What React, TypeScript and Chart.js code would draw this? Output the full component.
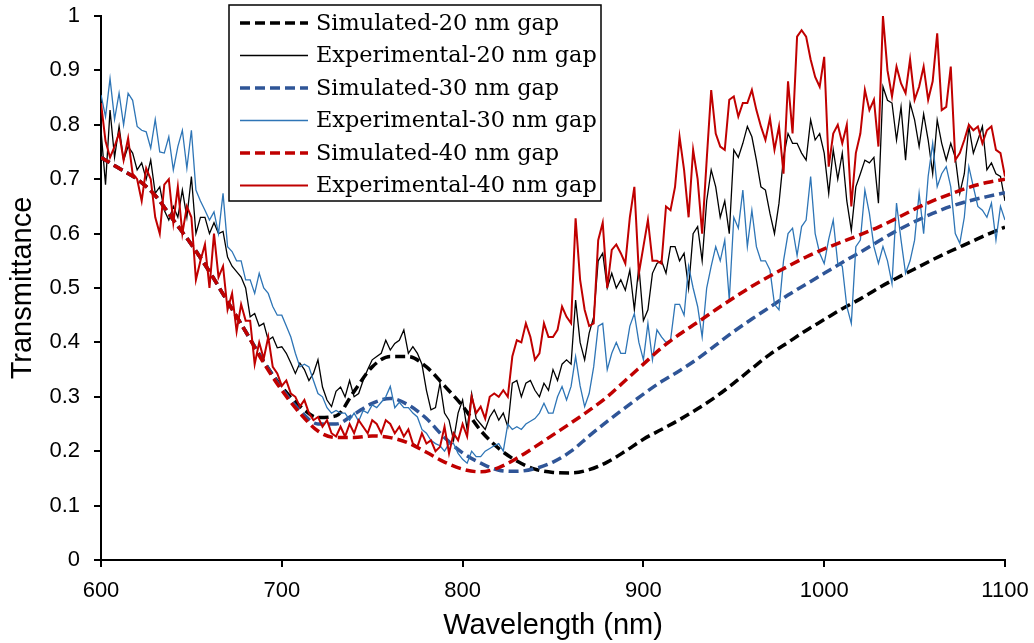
import React, { useEffect, useRef } from 'react';
import { Chart, registerables } from 'chart.js';

Chart.register(...registerables);

// ---------- data ----------
const SIM_WL = [
  600, 610, 620, 630, 640, 650, 660, 670, 680, 690,
  700, 710, 720, 730, 740, 750, 760, 770, 780, 790,
  800, 810, 820, 830, 840, 850, 860, 870, 880, 890,
  900, 910, 920, 930, 940, 950, 960, 970, 980, 990,
  1000, 1010, 1020, 1030, 1040, 1050, 1060, 1070, 1080, 1090,
  1100,
];

const SIM_20 = [
  0.74, 0.72, 0.70, 0.67, 0.625, 0.58, 0.53, 0.475, 0.42, 0.365,
  0.318, 0.283, 0.262, 0.265, 0.31, 0.355, 0.374, 0.374, 0.355, 0.32,
  0.283, 0.238, 0.205, 0.182, 0.167, 0.161, 0.16, 0.166, 0.18, 0.20,
  0.222, 0.24, 0.258, 0.278, 0.30, 0.325, 0.352, 0.378, 0.40, 0.422,
  0.442, 0.462, 0.48, 0.50, 0.518, 0.535, 0.552, 0.568, 0.583, 0.598,
  0.612,
];

const SIM_30 = [
  0.74, 0.72, 0.70, 0.67, 0.625, 0.58, 0.53, 0.475, 0.42, 0.365,
  0.315, 0.275, 0.25, 0.25, 0.268, 0.288, 0.297, 0.285, 0.26, 0.225,
  0.197, 0.178, 0.165, 0.163, 0.168, 0.18, 0.20, 0.228, 0.255, 0.28,
  0.305, 0.328, 0.348, 0.37, 0.395, 0.42, 0.443, 0.465, 0.487, 0.507,
  0.527, 0.547, 0.566, 0.586, 0.605, 0.622, 0.637, 0.65, 0.66, 0.668,
  0.675,
];

const SIM_40 = [
  0.74, 0.72, 0.70, 0.67, 0.625, 0.58, 0.53, 0.475, 0.42, 0.362,
  0.312, 0.27, 0.237, 0.225, 0.225, 0.228, 0.225, 0.215, 0.198, 0.18,
  0.167, 0.162, 0.17, 0.187, 0.208, 0.23, 0.252, 0.275, 0.30, 0.33,
  0.36, 0.39, 0.415, 0.437, 0.46, 0.482, 0.503, 0.522, 0.54, 0.557,
  0.572, 0.585, 0.598, 0.612, 0.628, 0.645, 0.66, 0.673, 0.685, 0.694,
  0.70,
];

const EXP_WL = [
  600, 602.5, 605, 607.5, 610, 612.5, 615, 617.5, 620, 622.5,
  625, 627.5, 630, 632.5, 635, 637.5, 640, 642.5, 645, 647.5,
  650, 652.5, 655, 657.5, 660, 662.5, 665, 667.5, 670, 672.5,
  675, 677.5, 680, 682.5, 685, 687.5, 690, 692.5, 695, 697.5,
  700, 702.5, 705, 707.5, 710, 712.5, 715, 717.5, 720, 722.5,
  725, 727.5, 730, 732.5, 735, 737.5, 740, 742.5, 745, 747.5,
  750, 752.5, 755, 757.5, 760, 762.5, 765, 767.5, 770, 772.5,
  775, 777.5, 780, 782.5, 785, 787.5, 790, 792.5, 795, 797.5,
  800, 802.5, 805, 807.5, 810, 812.5, 815, 817.5, 820, 822.5,
  825, 827.5, 830, 832.5, 835, 837.5, 840, 842.5, 845, 847.5,
  850, 852.5, 855, 857.5, 860, 862.5, 865, 867.5, 870, 872.5,
  875, 877.5, 880, 882.5, 885, 887.5, 890, 892.5, 895, 897.5,
  900, 902.5, 905, 907.5, 910, 912.5, 915, 917.5, 920, 922.5,
  925, 927.5, 930, 932.5, 935, 937.5, 940, 942.5, 945, 947.5,
  950, 952.5, 955, 957.5, 960, 962.5, 965, 967.5, 970, 972.5,
  975, 977.5, 980, 982.5, 985, 987.5, 990, 992.5, 995, 997.5,
  1000, 1002.5, 1005, 1007.5, 1010, 1012.5, 1015, 1017.5, 1020, 1022.5,
  1025, 1027.5, 1030, 1032.5, 1035, 1037.5, 1040, 1042.5, 1045, 1047.5,
  1050, 1052.5, 1055, 1057.5, 1060, 1062.5, 1065, 1067.5, 1070, 1072.5,
  1075, 1077.5, 1080, 1082.5, 1085, 1087.5, 1090, 1092.5, 1095, 1097.5,
  1100,
];

const EXP_20 = [
  0.79, 0.69, 0.827, 0.74, 0.797, 0.735, 0.76, 0.748, 0.717, 0.73,
  0.70, 0.735, 0.674, 0.686, 0.643, 0.625, 0.65, 0.63, 0.68, 0.63,
  0.705, 0.60, 0.63, 0.63, 0.60, 0.62, 0.60, 0.604, 0.557, 0.54,
  0.53, 0.52, 0.50, 0.447, 0.453, 0.43, 0.435, 0.404, 0.41, 0.39,
  0.392, 0.38, 0.362, 0.343, 0.362, 0.35, 0.33, 0.343, 0.368, 0.318,
  0.294, 0.282, 0.31, 0.318, 0.30, 0.33, 0.30, 0.306, 0.33, 0.35,
  0.368, 0.374, 0.38, 0.404, 0.386, 0.398, 0.404, 0.423, 0.38, 0.392,
  0.38, 0.36, 0.312, 0.276, 0.28, 0.325, 0.27, 0.257, 0.22, 0.27,
  0.294, 0.24, 0.306, 0.26, 0.25, 0.24, 0.263, 0.276, 0.257, 0.27,
  0.245, 0.325, 0.33, 0.30, 0.325, 0.33, 0.312, 0.30, 0.325, 0.312,
  0.35, 0.33, 0.36, 0.368, 0.36, 0.478, 0.40, 0.368, 0.417, 0.447,
  0.55, 0.564, 0.50, 0.527, 0.50, 0.515, 0.496, 0.533, 0.46, 0.54,
  0.44, 0.46, 0.527, 0.545, 0.55, 0.527, 0.576, 0.576, 0.55, 0.564,
  0.50, 0.60, 0.613, 0.55, 0.66, 0.717, 0.686, 0.63, 0.66, 0.60,
  0.754, 0.74, 0.766, 0.797, 0.778, 0.735, 0.686, 0.68, 0.637, 0.60,
  0.656, 0.74, 0.784, 0.766, 0.766, 0.748, 0.735, 0.809, 0.772, 0.784,
  0.748, 0.674, 0.754, 0.70, 0.748, 0.66, 0.606, 0.686, 0.71, 0.735,
  0.73, 0.74, 0.656, 0.87, 0.845, 0.84, 0.772, 0.833, 0.735, 0.84,
  0.809, 0.76, 0.82, 0.772, 0.71, 0.809, 0.766, 0.735, 0.766, 0.74,
  0.674, 0.71, 0.797, 0.748, 0.772, 0.797, 0.717, 0.73, 0.71, 0.705,
  0.66,
];

const EXP_30 = [
  0.855, 0.815, 0.885, 0.81, 0.858, 0.80, 0.858, 0.845, 0.797, 0.79,
  0.787, 0.757, 0.81, 0.75, 0.748, 0.778, 0.717, 0.76, 0.79, 0.72,
  0.79, 0.68, 0.66, 0.643, 0.625, 0.64, 0.60, 0.674, 0.576, 0.567,
  0.55, 0.55, 0.515, 0.515, 0.49, 0.527, 0.50, 0.49, 0.466, 0.45,
  0.45, 0.43, 0.41, 0.38, 0.355, 0.36, 0.355, 0.33, 0.306, 0.30,
  0.28, 0.27, 0.275, 0.27, 0.27, 0.257, 0.27, 0.255, 0.275, 0.27,
  0.285, 0.28, 0.29, 0.30, 0.319, 0.28, 0.29, 0.28, 0.28, 0.27,
  0.263, 0.24, 0.233, 0.22, 0.214, 0.21, 0.20, 0.214, 0.214, 0.196,
  0.185, 0.178, 0.20, 0.19, 0.19, 0.20, 0.205, 0.21, 0.214, 0.20,
  0.25, 0.24, 0.245, 0.24, 0.25, 0.255, 0.26, 0.27, 0.288, 0.27,
  0.27, 0.30, 0.319, 0.294, 0.319, 0.374, 0.32, 0.282, 0.306, 0.355,
  0.43, 0.435, 0.35, 0.38, 0.40, 0.38, 0.38, 0.43, 0.453, 0.40,
  0.368, 0.435, 0.368, 0.423, 0.41, 0.40, 0.404, 0.47, 0.47, 0.45,
  0.54, 0.50, 0.466, 0.41, 0.50, 0.54, 0.576, 0.55, 0.588, 0.478,
  0.63, 0.61, 0.68, 0.576, 0.643, 0.576, 0.55, 0.55, 0.533, 0.47,
  0.46, 0.55, 0.60, 0.61, 0.56, 0.613, 0.625, 0.705, 0.60, 0.564,
  0.545, 0.59, 0.625, 0.545, 0.54, 0.466, 0.435, 0.576, 0.588, 0.68,
  0.637, 0.576, 0.545, 0.576, 0.55, 0.508, 0.656, 0.588, 0.527, 0.55,
  0.588, 0.674, 0.60, 0.705, 0.766, 0.686, 0.71, 0.723, 0.686, 0.60,
  0.582, 0.63, 0.723, 0.686, 0.65, 0.643, 0.63, 0.656, 0.588, 0.65,
  0.625,
];

const EXP_40 = [
  0.84, 0.77, 0.74, 0.76, 0.785, 0.735, 0.775, 0.71, 0.70, 0.66,
  0.72, 0.70, 0.63, 0.60, 0.69, 0.70, 0.62, 0.686, 0.60, 0.65,
  0.63, 0.515, 0.55, 0.58, 0.50, 0.60, 0.52, 0.54, 0.46, 0.49,
  0.42, 0.47, 0.44, 0.44, 0.36, 0.40, 0.37, 0.41, 0.355, 0.343,
  0.32, 0.33, 0.306, 0.30, 0.282, 0.294, 0.27, 0.257, 0.263, 0.245,
  0.257, 0.233, 0.227, 0.245, 0.227, 0.25, 0.233, 0.257, 0.245, 0.233,
  0.257, 0.25, 0.233, 0.257, 0.25, 0.233, 0.245, 0.227, 0.24, 0.214,
  0.208, 0.233, 0.214, 0.22, 0.20, 0.208, 0.245, 0.196, 0.233, 0.22,
  0.25, 0.227, 0.30, 0.27, 0.282, 0.26, 0.30, 0.306, 0.30, 0.312,
  0.30, 0.374, 0.404, 0.40, 0.435, 0.41, 0.368, 0.38, 0.435, 0.41,
  0.41, 0.423, 0.466, 0.447, 0.435, 0.628, 0.515, 0.46, 0.43, 0.435,
  0.588, 0.62, 0.50, 0.57, 0.58, 0.564, 0.545, 0.63, 0.686, 0.527,
  0.576, 0.625, 0.55, 0.55, 0.545, 0.65, 0.643, 0.686, 0.778, 0.717,
  0.63, 0.754, 0.70, 0.60, 0.735, 0.864, 0.784, 0.76, 0.754, 0.846,
  0.852, 0.815, 0.84, 0.84, 0.864, 0.827, 0.797, 0.772, 0.812, 0.754,
  0.797, 0.71, 0.88, 0.784, 0.962, 0.974, 0.962, 0.92, 0.888, 0.87,
  0.925, 0.723, 0.784, 0.80, 0.766, 0.80, 0.65, 0.748, 0.784, 0.864,
  0.827, 0.846, 0.76, 1.0, 0.90, 0.852, 0.907, 0.876, 0.858, 0.92,
  0.846, 0.87, 0.907, 0.846, 0.88, 0.968, 0.827, 0.833, 0.907, 0.735,
  0.748, 0.772, 0.80, 0.79, 0.797, 0.766, 0.79, 0.797, 0.754, 0.748,
  0.705,
];

const SERIES_LABELS = [
  'Simulated-20 nm gap',
  'Experimental-20 nm gap',
  'Simulated-30 nm gap',
  'Experimental-30 nm gap',
  'Simulated-40 nm gap',
  'Experimental-40 nm gap',
];

const X_TICKS = [600, 700, 800, 900, 1000, 1100];
const X_TICK_LABELS = ['600', '700', '800', '900', '1000', '1100'];
const Y_TICKS = [0, 0.1, 0.2, 0.3, 0.4, 0.5, 0.6, 0.7, 0.8, 0.9, 1];
const Y_TICK_LABELS = ['0', '0.1', '0.2', '0.3', '0.4', '0.5', '0.6', '0.7', '0.8', '0.9', '1'];

const X_TITLE = 'Wavelength (nm)';
const Y_TITLE = 'Transmittance';

// ---------- styles ----------
const SANS = '"Liberation Sans", Arial, sans-serif';
const SERIF = '"DejaVu Serif", "Liberation Serif", serif';
const DASH = [10, 5];

const toPoints = (xs: number[], ys: number[]) => xs.map((x, i) => ({ x, y: ys[i] }));

const boxLegend = {
  id: 'boxLegend',
  afterDraw(chart: any) {
    const ctx = chart.ctx as CanvasRenderingContext2D;
    const x0 = 229, y0 = 5, w = 372, h = 196;
    ctx.save();
    ctx.fillStyle = '#ffffff';
    ctx.fillRect(x0, y0, w, h);
    ctx.strokeStyle = '#000000';
    ctx.lineWidth = 1.5;
    ctx.setLineDash([]);
    ctx.strokeRect(x0, y0, w, h);
    const items = chart.data.datasets.slice().sort((a: any, b: any) => a.legendIndex - b.legendIndex);
    items.forEach((ds: any, i: number) => {
      const cy = 23 + i * 32.5;
      ctx.beginPath();
      ctx.setLineDash(ds.borderDash || []);
      ctx.lineWidth = ds.borderWidth;
      ctx.strokeStyle = ds.borderColor;
      ctx.moveTo(240, cy);
      ctx.lineTo(308, cy);
      ctx.stroke();
      ctx.setLineDash([]);
      ctx.fillStyle = '#000000';
      ctx.font = `22.4px ${SERIF}`;
      ctx.textBaseline = 'middle';
      ctx.textAlign = 'left';
      ctx.fillText(ds.label, 316, cy + 1);
    });
    ctx.restore();
  },
};

export default function App() {
  const ref = useRef<HTMLCanvasElement | null>(null);

  useEffect(() => {
    if (!ref.current) return;
    const mk = (i: number, xs: number[], ys: number[], color: string, width: number, dashed: boolean, tension: number) => ({
      label: SERIES_LABELS[i],
      legendIndex: i,
      order: 5 - i,
      data: toPoints(xs, ys),
      borderColor: color,
      backgroundColor: color,
      borderWidth: width,
      borderDash: dashed ? DASH : [],
      pointRadius: 0,
      fill: false,
      tension,
      cubicInterpolationMode: dashed ? 'monotone' : 'default',
    });

    const chart = new Chart(ref.current, {
      type: 'line',
      data: {
        datasets: [
          mk(0, SIM_WL, SIM_20, '#000000', 3.5, true, 0.4),
          mk(1, EXP_WL, EXP_20, '#000000', 1.3, false, 0),
          mk(2, SIM_WL, SIM_30, '#2F5597', 3.5, true, 0.4),
          mk(3, EXP_WL, EXP_30, '#2E75B6', 1.3, false, 0),
          mk(4, SIM_WL, SIM_40, '#C00000', 3.5, true, 0.4),
          mk(5, EXP_WL, EXP_40, '#C00000', 2, false, 0),
        ] as any,
      },
      options: {
        responsive: false,
        animation: false,
        devicePixelRatio: 1,
        layout: { padding: { left: 0, top: 16, right: 29, bottom: 0 } },
        plugins: { legend: { display: false }, tooltip: { enabled: false } },
        scales: {
          x: {
            type: 'linear',
            min: 600,
            max: 1100,
            afterBuildTicks: (s: any) => { s.ticks = X_TICKS.map((v) => ({ value: v })); },
            afterFit: (s: any) => { s.height = 83; s.paddingLeft = 0; s.paddingRight = 0; },
            ticks: {
              color: '#000', font: { family: SANS, size: 22 }, padding: 11, maxRotation: 0, autoSkip: false,
              callback: (_v: any, i: number) => X_TICK_LABELS[i],
            },
            grid: { drawOnChartArea: false, drawTicks: true, tickLength: 7, color: '#000', lineWidth: 2 },
            border: { display: true, color: '#000', width: 2 },
            title: { display: true, text: X_TITLE, color: '#000', font: { family: SANS, size: 29 }, padding: { top: 0, bottom: 0 } },
          },
          y: {
            type: 'linear',
            min: 0,
            max: 1,
            afterBuildTicks: (s: any) => { s.ticks = Y_TICKS.map((v) => ({ value: v })); },
            afterFit: (s: any) => { s.width = 101; s.paddingTop = 0; s.paddingBottom = 0; },
            ticks: {
              color: '#000', font: { family: SANS, size: 22 }, padding: 14, autoSkip: false,
              callback: (_v: any, i: number) => Y_TICK_LABELS[i],
            },
            grid: { drawOnChartArea: false, drawTicks: true, tickLength: 7, color: '#000', lineWidth: 2 },
            border: { display: true, color: '#000', width: 2 },
            title: { display: true, text: Y_TITLE, color: '#000', font: { family: SANS, size: 29 }, padding: { top: 6, bottom: 0 } },
          },
        },
      } as any,
      plugins: [boxLegend],
    });
    return () => chart.destroy();
  }, []);

  return (
    <div style={{ position: 'fixed', left: 0, top: 0, width: 1034, height: 643, background: '#fff' }}>
      <canvas ref={ref} width={1034} height={643} style={{ display: 'block', width: 1034, height: 643 }} />
    </div>
  );
}
